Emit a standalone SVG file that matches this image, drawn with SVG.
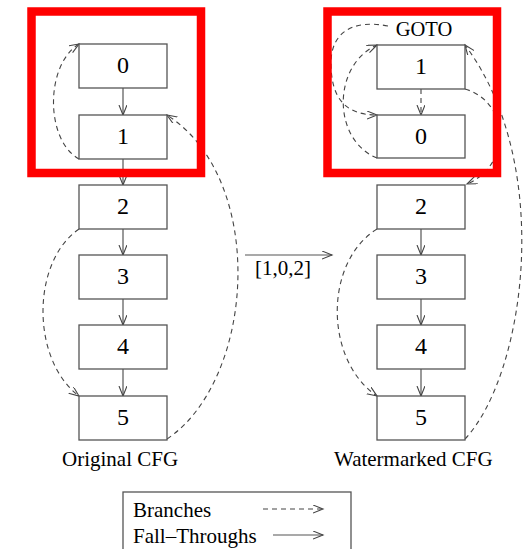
<svg xmlns="http://www.w3.org/2000/svg" width="525" height="549" viewBox="0 0 525 549">
  <style>
    .box rect { fill: #fff; stroke: #555; stroke-width: 1.3; }
    .box text { font-family: "Liberation Serif", "Times New Roman", serif; font-size: 24px; text-anchor: middle; fill: #000; }
    .lbl { font-family: "Liberation Serif", "Times New Roman", serif; font-size: 21px; fill: #000; }
    .ft { fill: none; stroke: #555; stroke-width: 1.2; marker-end: url(#arr); }
    .br { fill: none; stroke: #444; stroke-width: 1.1; stroke-dasharray: 5 4; marker-end: url(#arr); }
    .hl { fill: none; stroke: #ff0000; stroke-width: 8.5; }
  </style>
  <defs>
    <marker id="arr" markerUnits="userSpaceOnUse" markerWidth="12" markerHeight="10" refX="10" refY="4" orient="auto">
      <path d="M0,0 L10,4 L0,8" fill="none" stroke="#444" stroke-width="1.1"/>
    </marker>
  </defs>

  <rect width="525" height="549" fill="#fff"/>

  <!-- connectors -->
  <g id="connectors">
    <!-- original CFG: fall-throughs -->
    <line class="ft" x1="123" y1="88" x2="123" y2="115"/>
    <line class="ft" x1="123" y1="159" x2="123" y2="185"/>
    <line class="ft" x1="123" y1="229" x2="123" y2="255"/>
    <line class="ft" x1="123" y1="299" x2="123" y2="325"/>
    <line class="ft" x1="123" y1="369" x2="123" y2="396"/>
    <!-- original CFG: branches -->
    <path class="br" d="M79,159 C45,140 45,65 79,44"/>
    <path class="br" d="M79,229 C31,262 31,360 79,396"/>
    <path class="br" d="M167,439 C255,380 268,180 167,115"/>

    <!-- transformation arrow -->
    <line class="ft" x1="245" y1="255" x2="332" y2="255"/>

    <!-- watermarked CFG: fall-throughs -->
    <line class="ft" x1="421" y1="229" x2="421" y2="255"/>
    <line class="ft" x1="421" y1="299" x2="421" y2="325"/>
    <line class="ft" x1="421" y1="369" x2="421" y2="396"/>
    <!-- watermarked CFG: branches -->
    <line class="br" x1="421" y1="89" x2="421" y2="115"/>
    <path class="br" d="M388,26 C352,19 331,33 331,63 C331,98 345,115 377,115"/>
    <path class="br" d="M377,158 C332,140 332,65 377,45"/>
    <path class="br" d="M465,89 C510,102 512,165 467,184"/>
    <path class="br" d="M377,229 C324,262 324,360 377,396"/>
    <path class="br" d="M465,439 C525,375 555,165 465,45"/>

    <!-- legend arrows -->
    <line class="br" x1="263" y1="509" x2="323" y2="509"/>
    <line class="ft" x1="273" y1="535" x2="323" y2="535"/>
  </g>

  <!-- original CFG blocks -->
  <g id="o0" class="box"><rect x="79" y="44" width="88" height="44"/><text x="123" y="73">0</text></g>
  <g id="o1" class="box"><rect x="79" y="115" width="88" height="44"/><text x="123" y="144">1</text></g>
  <g id="o2" class="box"><rect x="79" y="185" width="88" height="44"/><text x="123" y="214">2</text></g>
  <g id="o3" class="box"><rect x="79" y="255" width="88" height="44"/><text x="123" y="284">3</text></g>
  <g id="o4" class="box"><rect x="79" y="325" width="88" height="44"/><text x="123" y="354">4</text></g>
  <g id="o5" class="box"><rect x="79" y="396" width="88" height="44"/><text x="123" y="425">5</text></g>

  <!-- watermarked CFG blocks -->
  <g id="w1" class="box"><rect x="377" y="45" width="88" height="44"/><text x="421" y="74">1</text></g>
  <g id="w0" class="box"><rect x="377" y="115" width="88" height="43"/><text x="421" y="144">0</text></g>
  <g id="w2" class="box"><rect x="377" y="185" width="88" height="44"/><text x="421" y="214">2</text></g>
  <g id="w3" class="box"><rect x="377" y="255" width="88" height="44"/><text x="421" y="284">3</text></g>
  <g id="w4" class="box"><rect x="377" y="325" width="88" height="44"/><text x="421" y="354">4</text></g>
  <g id="w5" class="box"><rect x="377" y="396" width="88" height="44"/><text x="421" y="425">5</text></g>

  <!-- highlighted reordered region -->
  <g id="highlight-left"><rect class="hl" x="31.5" y="11.5" width="169.5" height="161.5"/></g>
  <g id="highlight-right"><rect class="hl" x="327.5" y="11.5" width="169.5" height="161.5"/></g>

  <!-- labels -->
  <text class="lbl" x="424" y="36" text-anchor="middle" style="font-size:20.5px">GOTO</text>
  <text class="lbl" x="283" y="275" text-anchor="middle">[1,0,2]</text>
  <text class="lbl" x="62" y="466">Original CFG</text>
  <text class="lbl" x="334" y="466">Watermarked CFG</text>

  <!-- legend -->
  <g id="legend">
    <rect x="123" y="492" width="228" height="80" fill="none" stroke="#555" stroke-width="1.3"/>
    <text class="lbl" x="133" y="517">Branches</text>
    <text class="lbl" x="133" y="543">Fall–Throughs</text>
  </g>
</svg>
